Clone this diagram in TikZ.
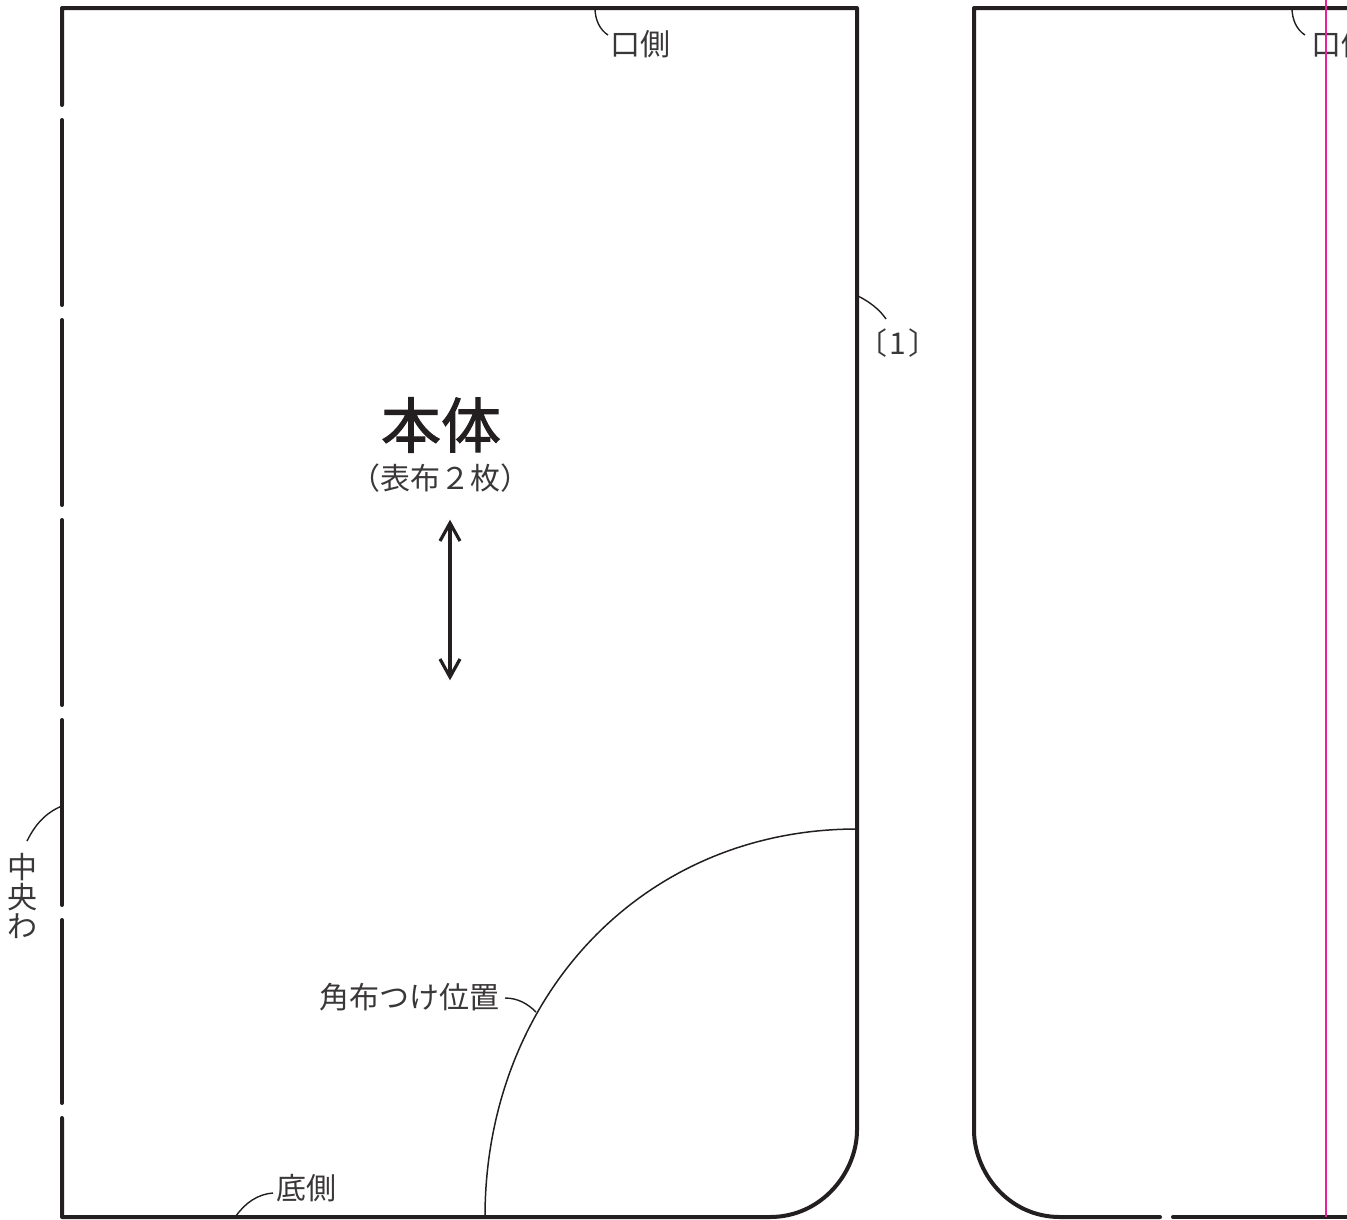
\documentclass[tikz,border=0pt]{standalone}
\usepackage{fontspec}
\setmainfont{Noto Sans CJK JP}
\newfontfamily\heavycjk[FakeBold=1.6]{Noto Sans CJK JP}
\definecolor{ink}{HTML}{231F20}
\definecolor{txt}{HTML}{3A3738}
\definecolor{pinkline}{HTML}{E9219A}
\tikzset{
 outline/.style={draw=ink,line width=4pt,line cap=round,line join=round},
 thinline/.style={draw=ink,line width=1.5pt},
 leader/.style={draw=ink,line width=1.4pt},
 grain/.style={draw=ink,line width=3.2pt,line join=miter},
 lab/.style={inner sep=0pt,text=txt,font=\fontsize{30}{30}\selectfont},
}
\begin{document}
\begin{tikzpicture}[x=1pt,y=-1pt]
\useasboundingbox (0,0) rectangle (1347,1219);
\clip (0,0) rectangle (1347,1219);
% coordinates
\coordinate (tl) at (62,8);
\coordinate (tr) at (857,8);
\coordinate (rs) at (857,1130);
\coordinate (be) at (770,1217);
\coordinate (bl) at (62,1217);
% left panel outline
\draw[outline] (62,105) -- (tl) -- (tr) -- (rs) .. controls (857,1172) and (822,1217) .. (be) -- (bl) -- (62,1118);
\foreach \a/\b in {120/305,320/505,520/705,720/905,920/1103}
  \draw[outline] (62,\a) -- (62,\b);
% corner patch placement
\coordinate (arcA) at (857,829);
\coordinate (arcB) at (485,1217);
\draw[thinline] (arcA) .. controls (640,829) and (485,1000) .. (arcB);
% right panel
\coordinate (rtl) at (974,8);
\coordinate (rtr) at (1350,8);
\coordinate (rls) at (974,1130);
\coordinate (rbe) at (1060,1217);
\coordinate (rbm) at (1160,1217);
\coordinate (rbn) at (1173,1217);
\coordinate (rbr) at (1350,1217);
\draw[outline] (rtr) -- (rtl) -- (rls) .. controls (974,1172) and (1008,1217) .. (rbe) -- (rbm);
\draw[outline] (rbn) -- (rbr);
% labels
\node[lab,anchor=center] (kuchi1) at (640,44) {口側};
\node[lab,anchor=center] (ichi) at (409,997) {角布つけ位置};
\node[lab,anchor=center] (soko) at (306,1188) {底側};
\node[lab,anchor=center] (chuo) at (23,896) {\shortstack{中\\[0pt]央\\[0pt]わ}};
\node[lab,anchor=center] (one) at (898,343) {〔\kern2pt 1\kern2pt 〕};
\node[lab,anchor=center] (kuchi2) at (1341,44) {口側};
\node[inner sep=0pt,text=ink,font=\fontsize{60}{60}\heavycjk] (hontai) at (441,425) {本体};
\node[lab,anchor=center] (omote) at (440,478) {（表布２枚）};
% leaders
\coordinate (c1) at (595,8);
\coordinate (c2) at (1292,8);
\coordinate (c3) at (858,296);
\coordinate (c4) at (62,806);
\coordinate (c5) at (536,1012);
\coordinate (c6) at (236,1216);
\draw[leader] (c1) .. controls (595,20) and (600,30) .. (608,35);
\draw[leader] (c2) .. controls (1292,20) and (1297,30) .. (1305,35);
\draw[leader] (c3) .. controls (870,302) and (880,310) .. (886,319);
\draw[leader] (c4) .. controls (45,813) and (35,825) .. (27,841);
\draw[leader] (c5) .. controls (528,1004) and (518,998) .. (505,998);
\draw[leader] (c6) .. controls (245,1203) and (258,1194) .. (273,1193);
% grain arrow
\coordinate (arT) at (450,523);
\coordinate (arB) at (450,677);
\draw[grain] (arT) -- (arB);
\draw[grain] (440,541) -- (arT) -- (460,541);
\draw[grain] (440,659) -- (arB) -- (460,659);
% pink line
\coordinate (pT) at (1326,-2);
\coordinate (pB) at (1326,1217);
\draw[draw=pinkline,line width=2.4pt] (pT) -- (pB);
\end{tikzpicture}
\end{document}
